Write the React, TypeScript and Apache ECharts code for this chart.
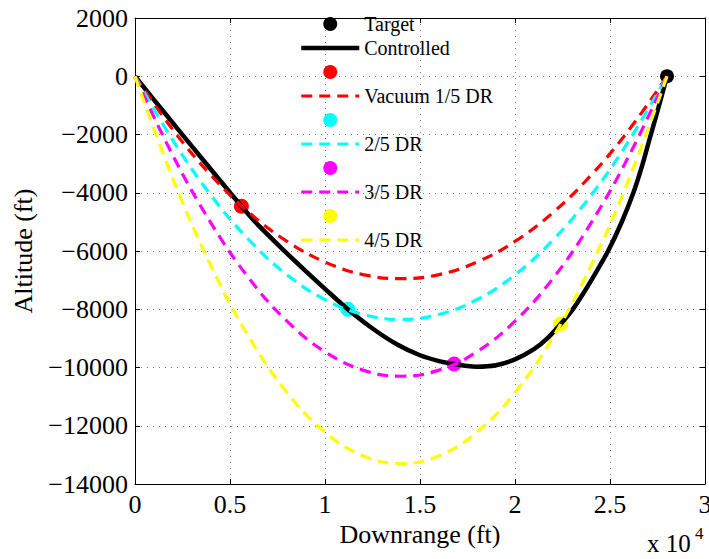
import React, { useEffect, useRef } from "react";
import * as echarts from "echarts";

// Vacuum (dashed) trajectories, sampled at VAC_X (ft)
const VAC_X = [0, 2000, 4000, 6000, 8000, 10000, 12000, 14000, 16000, 18000, 20000, 22000, 24000, 26000, 28000];
const VAC_1_5 = [0, -1840, -3400, -4680, -5670, -6380, -6810, -6950, -6810, -6380, -5670, -4680, -3400, -1840, 0];
const VAC_2_5 = [0, -2210, -4090, -5620, -6820, -7670, -8180, -8350, -8180, -7670, -6820, -5620, -4090, -2210, 0];
const VAC_3_5 = [0, -2730, -5040, -6940, -8410, -9460, -10090, -10300, -10090, -9460, -8410, -6940, -5040, -2730, 0];
const VAC_4_5 = [0, -3530, -6510, -8960, -10860, -12220, -13030, -13300, -13030, -12220, -10860, -8960, -6510, -3530, 0];

// Controlled trajectory
const CTRL_X = [0, 1000, 2000, 3000, 4000, 5000, 5600, 6500, 7900, 9000, 10000, 11200, 12500, 13800, 15000, 16000, 16800, 17500, 18000, 19000, 20000, 21000, 21700, 22400, 23000, 23600, 24200, 24900, 25600, 26230, 26700, 27100, 27550, 28000];
const CTRL_Y = [0, -810, -1610, -2410, -3200, -3990, -4460, -5120, -6020, -6700, -7300, -8000, -8660, -9210, -9580, -9780, -9880, -9950, -9970, -9920, -9720, -9370, -9000, -8510, -8040, -7450, -6800, -6000, -5030, -4000, -3050, -2120, -1080, 0];

// Switch points (dots) and target
const DOT_X = [5600, 11200, 16800, 22400];
const DOT_Y = [-4460, -8000, -9880, -8510];
const TARGET_X = 28000;
const TARGET_Y = 0;

const NAMES = ["Vacuum 1/5 DR", "2/5 DR", "3/5 DR", "4/5 DR"];
const COLORS = ["#ff0000", "#00ffff", "#ff00ff", "#ffff00"];
const VACS = [VAC_1_5, VAC_2_5, VAC_3_5, VAC_4_5];

const FONT = "Liberation Serif";

export default function App() {
  const ref = useRef<HTMLDivElement>(null);
  useEffect(() => {
    if (!ref.current) return;
    document.body.style.margin = "0";
    const chart = echarts.init(ref.current, null, { renderer: "svg" });

    const zip = (xs: number[], ys: number[]) => xs.map((x, i) => [x, ys[i]]);

    const series: any[] = [
      {
        name: "Target",
        type: "scatter",
        data: [[TARGET_X, TARGET_Y]],
        symbol: "circle",
        symbolSize: 14,
        itemStyle: { color: "#000", opacity: 1 },
      },
      {
        name: "Controlled",
        type: "line",
        data: zip(CTRL_X, CTRL_Y),
        smooth: 0.3,
        symbol: "none",
        lineStyle: { color: "#000", width: 4.5 },
        itemStyle: { color: "#000" },
      },
    ];
    const hideSym = { opacity: 0 };
    const legendData: any[] = [
      { name: "Target", icon: "circle" },
      { name: "Controlled", itemStyle: hideSym },
    ];
    NAMES.forEach((n, i) => {
      const dotName = n + " point";
      series.push({
        name: dotName,
        type: "scatter",
        data: [[DOT_X[i], DOT_Y[i]]],
        symbol: "circle",
        symbolSize: 15,
        itemStyle: { color: COLORS[i], opacity: 1 },
      });
      series.push({
        name: n,
        type: "line",
        data: zip(VAC_X, VACS[i]),
        smooth: 0.4,
        symbol: "none",
        lineStyle: { color: COLORS[i], width: 3.2, type: [11, 7] },
        itemStyle: { color: COLORS[i] },
      });
      legendData.push({ name: dotName, icon: "circle" });
      legendData.push({ name: n, itemStyle: hideSym });
    });

    const axisCommon = {
      axisLine: { show: true, onZero: false, lineStyle: { color: "#000", width: 1 } },
      axisTick: { show: true, inside: true, length: 5, lineStyle: { color: "#000" } },
    };
    const dotted = { show: true, lineStyle: { color: "#7a7a7a", width: 1, type: [1, 5] } };

    chart.setOption({
      animation: false,
      backgroundColor: "#fff",
      grid: { left: 135, right: 4, top: 18, bottom: 75, outerBoundsMode: "none" },
      legend: {
        orient: "vertical",
        left: 299,
        top: 14,
        padding: 0,
        itemWidth: 58,
        itemHeight: 14,
        itemGap: 4,
        selectedMode: false,
        data: legendData,
        formatter: (name: string) => (name.endsWith(" point") ? "\u00a0" : name),
        textStyle: { fontFamily: FONT, fontSize: 20, color: "#000", lineHeight: 20 },
        lineStyle: { width: "inherit" },
      },
      xAxis: [
        {
          type: "value",
          min: 0,
          max: 30000,
          interval: 5000,
          position: "bottom",
          ...axisCommon,
          splitLine: dotted,
          axisLabel: {
            formatter: (v: number) => String(v / 10000),
            fontFamily: FONT,
            fontSize: 26,
            color: "#000",
            margin: 7,
          },
          name: "Downrange (ft)",
          nameLocation: "middle",
          nameGap: 36,
          nameTextStyle: { fontFamily: FONT, fontSize: 26, color: "#000" },
        },
        {
          type: "value",
          min: 0,
          max: 30000,
          interval: 5000,
          position: "top",
          ...axisCommon,
          splitLine: { show: false },
          axisLabel: { show: false },
        },
      ],
      yAxis: [
        {
          type: "value",
          min: -14000,
          max: 2000,
          interval: 2000,
          position: "left",
          ...axisCommon,
          splitLine: dotted,
          axisLabel: {
            formatter: (v: number) => String(v).replace("-", "\u2212"),
            fontFamily: FONT,
            fontSize: 26,
            color: "#000",
            margin: 7,
          },
          name: "Altitude (ft)",
          nameLocation: "middle",
          nameRotate: 90,
          nameGap: 99,
          nameTextStyle: { fontFamily: FONT, fontSize: 26, color: "#000" },
        },
        {
          type: "value",
          min: -14000,
          max: 2000,
          interval: 2000,
          position: "right",
          ...axisCommon,
          splitLine: { show: false },
          axisLabel: { show: false },
        },
      ],
      graphic: [
        {
          type: "text",
          left: 647,
          top: 531,
          style: { text: "x 10", font: `25px "${FONT}"`, fill: "#000" },
        },
        {
          type: "text",
          left: 695,
          top: 525,
          style: { text: "4", font: `17px "${FONT}"`, fill: "#000" },
        },
      ],
      series,
    });
    return () => chart.dispose();
  }, []);
  return <div ref={ref} style={{ width: 709, height: 559 }} />;
}
